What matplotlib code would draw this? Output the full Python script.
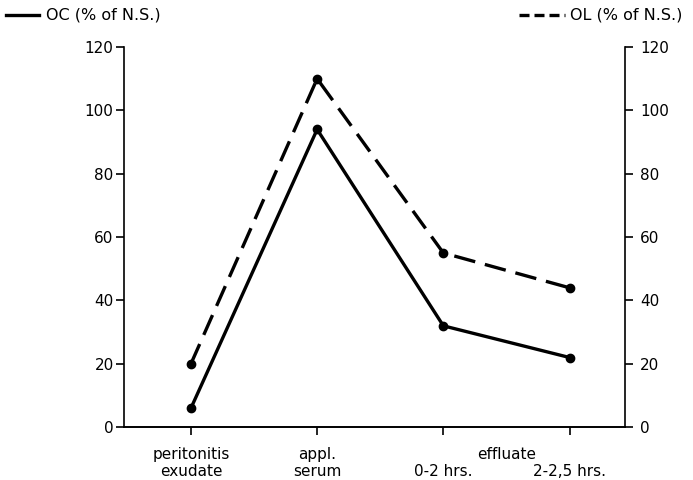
import matplotlib.pyplot as plt
from matplotlib.lines import Line2D

plt.rcParams['font.family'] = ['DejaVu Sans']

# categorias e valores
categorias = ['peritonitis\nexudate', 'appl.\nserum', '\n0-2 hrs.', '\n2-2,5 hrs.']
grupo = 'effluate\n'
oc = [6, 94, 32, 22]      # OC (% of N.S.) - eixo esquerdo
ol = [20, 110, 55, 44]    # OL (% of N.S.) - eixo direito
yticks = [0, 20, 40, 60, 80, 100, 120]

fs = 11
fig = plt.figure(figsize=(6.93, 4.80), dpi=100)
ax = fig.add_axes([0.179, 0.110, 0.723, 0.792])
ax2 = ax.twinx()

x = list(range(len(categorias)))
ax.plot(x, oc, color='black', lw=2.4, marker='o', ms=6, solid_capstyle='round')
ax2.plot(x, ol, color='black', lw=2.4, marker='o', ms=6, dashes=(6.5, 3))

for a in (ax, ax2):
    a.set_ylim(0, 120)
    a.set_yticks(yticks)
    a.spines['top'].set_visible(False)
    for s in a.spines.values():
        s.set_linewidth(1.2)
    a.tick_params(axis='y', direction='out', length=6, width=1.2, labelsize=fs, pad=1.5)
ax2.tick_params(axis='y', pad=5)

ax.set_xlim(-0.53, 3.44)
ax.set_xticks(x)
ax.set_xticklabels(categorias, fontsize=fs, linespacing=1.15)
ax.tick_params(axis='x', which='major', length=6, width=1.2, pad=8.5)
# "effluate" como tick menor entre os dois últimos pontos
ax.set_xticks([2.5], minor=True)
ax.set_xticklabels([grupo], minor=True, fontsize=fs, linespacing=1.15)
ax.tick_params(axis='x', which='minor', length=0, pad=14.5)
ax2.spines['left'].set_visible(False)
ax.spines['right'].set_visible(False)

# legendas no topo
fig.add_artist(Line2D([0.009, 0.056], [0.968, 0.968], color='black', lw=2.4))
fig.text(0.066, 0.968, 'OC (% of N.S.)', va='center', fontsize=11.5)
fig.add_artist(Line2D([0.749, 0.815], [0.968, 0.968], color='black', lw=2.4, dashes=(3, 1.5)))
fig.text(0.823, 0.968, 'OL (% of N.S.)', va='center', fontsize=11.5)

fig.savefig('out.png', dpi=100)
